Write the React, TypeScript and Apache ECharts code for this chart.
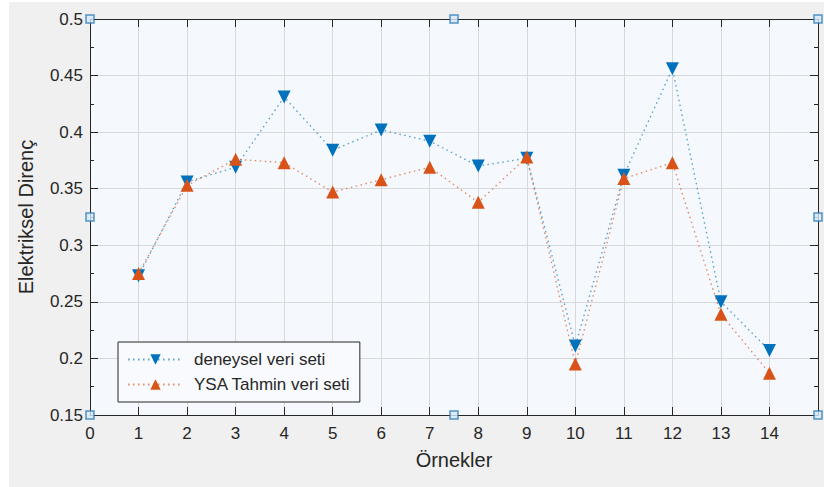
import React, { useEffect, useRef } from "react";
import * as echarts from "echarts";

const samples = [1, 2, 3, 4, 5, 6, 7, 8, 9, 10, 11, 12, 13, 14];
const deneysel = [0.273, 0.356, 0.369, 0.431, 0.384, 0.402, 0.392, 0.370, 0.377, 0.211, 0.362, 0.456, 0.250, 0.207];
const ysa = [0.275, 0.353, 0.376, 0.373, 0.347, 0.358, 0.369, 0.338, 0.378, 0.195, 0.359, 0.373, 0.239, 0.187];
const seriesNames = ["deneysel veri seti", "YSA Tahmin veri seti"];
const handlePoints = [
  [0, 0.15], [7.5, 0.15], [15, 0.15],
  [0, 0.325], [15, 0.325],
  [0, 0.5], [7.5, 0.5], [15, 0.5],
];

const FONT = "'Liberation Sans', Arial, sans-serif";
const DARK = "#262626";

export default function App() {
  const ref = useRef<HTMLDivElement>(null);
  useEffect(() => {
    if (!ref.current) return;
    const chart = echarts.init(ref.current, null, { renderer: "svg" });
    const baseX = {
      type: "value",
      min: 0,
      max: 15,
      interval: 1,
      axisLine: { show: true, onZero: false, lineStyle: { color: DARK, width: 1 } },
      axisTick: { show: true, inside: true, length: 8, lineStyle: { color: DARK } },
    };
    const baseY = {
      type: "value",
      min: 0.15,
      max: 0.5,
      interval: 0.05,
      axisLine: { show: true, onZero: false, lineStyle: { color: DARK, width: 1 } },
      axisTick: { show: true, inside: true, length: 8, lineStyle: { color: DARK } },
      minorTick: { show: true, splitNumber: 2, length: 4, lineStyle: { color: DARK } },
    };
    chart.setOption({
      animation: false,
      backgroundColor: "#ffffff",
      textStyle: { fontFamily: FONT },
      graphic: [
        {
          type: "rect",
          z: -10,
          shape: { x: 9, y: 2, width: 815, height: 485 },
          style: { fill: "#f0f0f0" },
          silent: true,
        },
      ],
      grid: {
        left: 90,
        top: 19,
        width: 728,
        height: 396,
        show: true,
        backgroundColor: "#f5f8fc",
        borderWidth: 0,
      },
      legend: {
        data: seriesNames,
        orient: "vertical",
        left: 118,
        top: 342,
        itemWidth: 55,
        itemHeight: 13,
        itemGap: 8,
        padding: [9, 9, 9, 9],
        backgroundColor: "#f8fafd",
        borderColor: DARK,
        borderWidth: 1,
        borderRadius: 0,
        textStyle: { fontSize: 17, color: DARK, fontFamily: FONT, padding: [0, 0, 0, 6] },
      },
      xAxis: [
        {
          ...baseX,
          position: "bottom",
          axisLabel: {
            show: true,
            fontSize: 17,
            color: DARK,
            margin: 10,
            fontFamily: FONT,
            formatter: (v: number) => (v === 15 ? "" : String(v)),
          },
          splitLine: { show: true, lineStyle: { color: "#d6d8db", width: 1 } },
          name: "Örnekler",
          nameLocation: "middle",
          nameGap: 35,
          nameTextStyle: { fontSize: 20, color: DARK, fontFamily: FONT },
        },
        {
          ...baseX,
          position: "top",
          axisLabel: { show: false },
          splitLine: { show: false },
        },
      ],
      yAxis: [
        {
          ...baseY,
          position: "left",
          axisLabel: { show: true, fontSize: 17, color: DARK, margin: 7, fontFamily: FONT },
          splitLine: { show: true, lineStyle: { color: "#d6d8db", width: 1 } },
          name: "Elektriksel Direnç",
          nameLocation: "middle",
          nameGap: 54,
          nameTextStyle: { fontSize: 20, color: DARK, fontFamily: FONT },
        },
        {
          ...baseY,
          position: "right",
          axisLabel: { show: false },
          splitLine: { show: false },
        },
      ],
      series: [
        {
          name: seriesNames[0],
          type: "line",
          xAxisIndex: 0,
          yAxisIndex: 0,
          data: samples.map((s, i) => [s, deneysel[i]]),
          symbol: "triangle",
          symbolRotate: 180,
          symbolSize: 13,
          itemStyle: { color: "#0072BD" },
          lineStyle: { color: "#0072BD", type: [1.5, 3.5], width: 1.4, opacity: 0.65 },
          z: 3,
        },
        {
          name: seriesNames[1],
          type: "line",
          xAxisIndex: 0,
          yAxisIndex: 0,
          data: samples.map((s, i) => [s, ysa[i]]),
          symbol: "triangle",
          symbolSize: 13,
          itemStyle: { color: "#D95319" },
          lineStyle: { color: "#D95319", type: [1.5, 3.5], width: 1.4, opacity: 0.65 },
          z: 4,
        },
        {
          name: "handles",
          type: "scatter",
          xAxisIndex: 0,
          yAxisIndex: 0,
          data: handlePoints,
          symbol: "rect",
          symbolSize: 8,
          clip: false,
          silent: true,
          itemStyle: { color: "#d9e8f6", borderColor: "#2b7bba", borderWidth: 1.5 },
          z: 10,
        },
      ],
    });
    return () => chart.dispose();
  }, []);
  return (
    <div
      ref={ref}
      style={{ position: "fixed", left: 0, top: 0, width: 824, height: 487 }}
    />
  );
}
